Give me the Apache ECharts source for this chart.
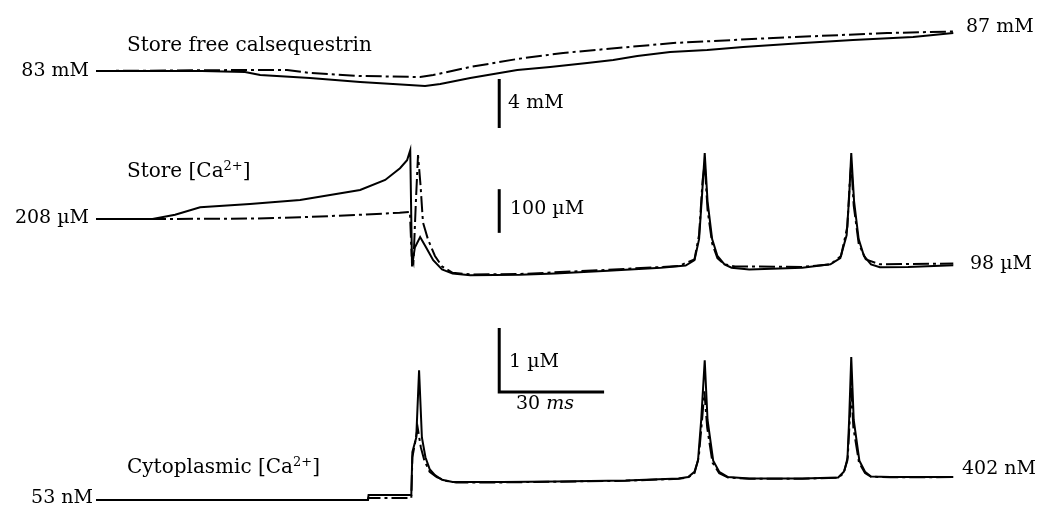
<!DOCTYPE html>
<html>
<head>
<meta charset="utf-8">
<script src="https://cdn.jsdelivr.net/npm/echarts@6/dist/echarts.min.js"></script>
<style>html,body{margin:0;padding:0;background:#fff}#c{width:1039px;height:505px}</style>
</head>
<body>
<div id="c"></div>
<script>
// ---- Data (time in ms) ----
// Store free calsequestrin (mM)
const calsSolidT = [0, 30, 42.2, 46.5, 60.6, 74.8, 84.1, 93.2, 97.5, 106.0, 119.3, 128.6, 139.1, 146.5, 153.3, 162.6, 173.1, 183.3, 200.3, 214.4, 231.4, 242.8];
const calsSolidV = [83.0, 83.0, 82.9, 82.6, 82.3, 81.9, 81.7, 81.5, 81.7, 82.3, 83.1, 83.4, 83.8, 84.1, 84.5, 84.9, 85.1, 85.4, 85.8, 86.1, 86.4, 86.8];
const calsDashT = [0, 42.2, 54.1, 60.6, 74.8, 91.8, 95.5, 106.0, 119.3, 132.3, 147.6, 163.5, 191.8, 224.1, 242.8];
const calsDashV = [83.0, 83.1, 83.1, 82.8, 82.5, 82.4, 82.6, 83.4, 84.2, 84.8, 85.3, 85.8, 86.3, 86.8, 86.95];

// Store [Ca2+] (µM)
const storeSolidT = [0, 16, 22.4, 29.5, 43.6, 57.8, 66.3, 74.8, 81.9, 86.1, 88.1, 89.0, 89.5, 90.3, 91.8, 93.5, 95.5, 98, 101, 106, 120, 130, 145, 160, 167, 169.5, 170.8, 171.6, 172.4, 173.2, 174.5, 176, 178, 180, 185, 200, 208, 210.8, 212.6, 213.3, 213.9, 214.7, 216, 217.5, 219.5, 222, 230, 242.8];
const storeSolidV = [208, 208, 218, 236, 244, 253, 265, 277, 301, 329, 348, 372, 95, 140, 165, 140, 110, 88, 78, 74, 75, 78, 85, 92, 97, 110, 160, 260, 365, 250, 160, 120, 100, 92, 88, 92, 100, 115, 170, 260, 365, 250, 160, 120, 100, 93, 94, 98];
const storeDashT = [0, 16, 43.6, 57.8, 74.8, 86, 88.9, 89.4, 89.9, 90.6, 91.2, 91.9, 92.6, 94, 96, 98, 101, 106, 120, 145, 165, 169.5, 170.8, 171.8, 172.4, 173.2, 174.5, 176, 178, 181, 200, 208, 211, 212.8, 213.5, 213.9, 214.6, 216, 218, 222, 230, 242.8];
const storeDashV = [208, 208, 209, 212, 218, 223, 225, 120, 105, 250, 360, 290, 200, 160, 120, 95, 80, 76, 77, 87, 96, 112, 170, 300, 340, 230, 150, 115, 100, 95, 94, 100, 120, 190, 300, 340, 240, 150, 112, 100, 101, 102];

// Cytoplasmic [Ca2+] (nM)
const cytoSolidT = [0, 77, 77.2, 89.3, 89.6, 90.7, 91.5, 92.3, 93.3, 94.5, 96, 98, 101, 115, 130, 150, 165, 167.7, 169.5, 170.5, 171.4, 172.4, 173.2, 174.8, 176.5, 179, 185, 200, 210.2, 211.8, 212.8, 213.3, 213.9, 214.6, 216.2, 217.8, 219.5, 225, 242.8];
const cytoSolidV = [53, 53, 130, 130, 780, 1000, 2020, 1000, 700, 520, 430, 360, 325, 325, 335, 350, 380, 400, 480, 650, 1265, 2170, 1265, 650, 480, 400, 380, 378, 395, 480, 650, 1265, 2220, 1265, 650, 480, 410, 400, 402];
const cytoDashT = [0, 77, 77.2, 89.3, 89.6, 90.3, 91.1, 92, 93, 94.5, 96.5, 99, 102, 115, 130, 150, 165, 167.7, 169.5, 170.7, 171.7, 172.3, 173.1, 174.6, 176.5, 179, 185, 200, 210.2, 211.8, 212.9, 213.5, 213.9, 214.5, 216.1, 217.8, 219.5, 225, 242.8];
const cytoDashV = [53, 53, 85, 85, 700, 900, 1150, 850, 650, 480, 400, 345, 318, 320, 330, 345, 375, 395, 460, 700, 1300, 1700, 1150, 620, 460, 395, 375, 375, 392, 460, 700, 1300, 1750, 1150, 620, 460, 405, 398, 400];

// Scale bars (values in each trace's units)
const barCalsT = [114.2, 114.2];
const barCalsV = [82.2, 77.3];
const barStoreT = [114.2, 114.2];
const barStoreV = [279, 175];
const barCytoT = [114.2, 114.2, 143.9];
const barCytoV = [2659, 1689, 1689];

const zip = (t, v) => t.map((x, i) => [x, v[i]]);

const chart = echarts.init(document.getElementById('c'), null, {renderer: 'canvas'});
const FS = 20;
const FSN = 19;
const xAx = (i) => ({type: 'value', gridIndex: i, min: 0, max: 243, show: false});
const yAx = (i, mn, mx) => ({type: 'value', gridIndex: i, min: mn, max: mx, show: false});
const DASH = [16, 4, 3, 4];
const line = (name, i, data, dashed, w) => ({
  name, type: 'line', xAxisIndex: i, yAxisIndex: i, data, symbol: 'none', silent: true,
  clip: false, animation: false,
  lineStyle: {color: '#000', width: w || 2, type: dashed ? DASH : 'solid', cap: 'butt', join: 'miter'}
});
const RICH = {
  n: {fontFamily: 'DejaVu Serif', fontSize: FS, lineHeight: 24, fill: '#000', color: '#000'},
  v: {fontFamily: 'DejaVu Serif', fontSize: FSN, lineHeight: 24, fill: '#000', color: '#000'},
  s: {fontFamily: 'DejaVu Serif', fontSize: 13, lineHeight: 13, verticalAlign: 'top', fill: '#000', color: '#000'},
  i: {fontFamily: 'DejaVu Serif', fontStyle: 'italic', fontSize: FSN, lineHeight: 24, fill: '#000', color: '#000'}
};
const txt = (text, x, y, align) => ({
  type: 'text', x, y, silent: true,
  style: {text, font: FS + 'px "DejaVu Serif"', fill: '#000', rich: RICH,
    textAlign: align || 'left', textVerticalAlign: 'middle', align: align || 'left', verticalAlign: 'middle'}
});

chart.setOption({
  backgroundColor: '#fff',
  animation: false,
  grid: [
    {left: 96, width: 858, top: 21, height: 120},
    {left: 96, width: 858, top: 138.36, height: 151.2},
    {left: 96, width: 858, top: 318.7, height: 184.8}
  ],
  xAxis: [xAx(0), xAx(1), xAx(2)],
  yAxis: [yAx(0, 76, 88), yAx(1, 40, 400), yAx(2, 0, 2800)],
  series: [
    line('cals dashed', 0, zip(calsDashT, calsDashV), true),
    line('cals solid', 0, zip(calsSolidT, calsSolidV), false),
    line('cals bar', 0, zip(barCalsT, barCalsV), false, 3),
    line('store dashed', 1, zip(storeDashT, storeDashV), true),
    line('store solid', 1, zip(storeSolidT, storeSolidV), false),
    line('store bar', 1, zip(barStoreT, barStoreV), false, 3),
    line('cyto dashed', 2, zip(cytoDashT, cytoDashV), true),
    line('cyto solid', 2, zip(cytoSolidT, cytoSolidV), false),
    line('cyto bar', 2, zip(barCytoT, barCytoV), false, 3)
  ],
  graphic: [
    txt('{n|Store free calsequestrin}', 127, 46),
    txt('{v|83 mM}', 89, 71, 'right'),
    txt('{v|87 mM}', 966, 27),
    txt('{v|4 mM}', 508, 103),
    txt('{n|Store [Ca}{s|2+}{n|]}', 127, 172),
    txt('{v|208 \u00B5M}', 89, 218, 'right'),
    txt('{v|100 \u00B5M}', 510, 209),
    txt('{v|98 \u00B5M}', 970, 264),
    txt('{v|1 \u00B5M}', 509, 362),
    txt('{v|30 }{i|ms}', 516, 404),
    txt('{n|Cytoplasmic [Ca}{s|2+}{n|]}', 127, 468),
    txt('{v|53 nM}', 93, 498, 'right'),
    txt('{v|402 nM}', 962, 469)
  ]
});
</script>
</body>
</html>
